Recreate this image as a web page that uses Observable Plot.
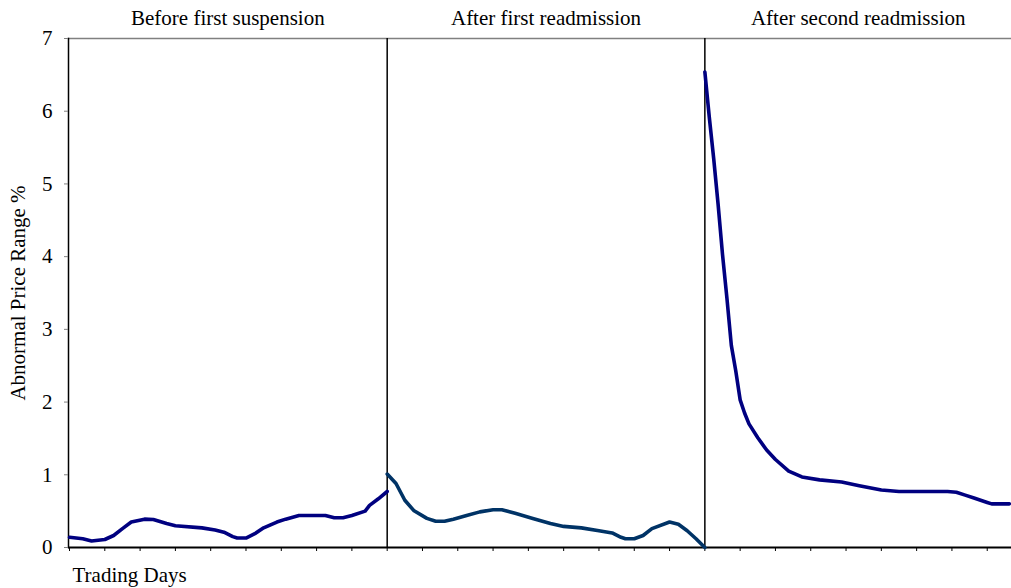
<!DOCTYPE html>
<html>
<head>
<meta charset="utf-8">
<script src="https://cdn.jsdelivr.net/npm/d3@7"></script>
<script src="https://cdn.jsdelivr.net/npm/@observablehq/plot@0.6"></script>
<style>
  html, body { margin: 0; padding: 0; background: #fff; }
</style>
</head>
<body>
<div id="chart"></div>
<script>
// Segment labels and boundaries (trading days)
const segmentNames = ["Before first suspension", "After first readmission", "After second readmission"];
const segmentStart = [-0.23, 72, 144];
const segmentEnd = [72, 144, 213.5];
const boundaries = [72, 144];

// Series: abnormal price range (%) by trading day
const seg1Days = [0, 3, 5, 8, 10, 12, 14, 17, 19, 22, 24, 30, 33, 35, 37, 38, 40, 42, 44, 47, 49, 52, 58, 60, 62, 64, 67, 68, 70, 72];
const seg1Vals = [0.14, 0.12, 0.09, 0.11, 0.165, 0.26, 0.35, 0.39, 0.385, 0.33, 0.30, 0.27, 0.24, 0.21, 0.15, 0.13, 0.13, 0.19, 0.27, 0.35, 0.39, 0.44, 0.44, 0.41, 0.41, 0.44, 0.50, 0.58, 0.67, 0.77];

const seg2Days = [72, 74, 76, 78, 81, 83, 85, 87, 90, 93, 96, 98, 101, 105, 109, 112, 116, 120, 123, 125, 126, 128, 130, 132, 136, 138, 140, 142, 144];
const seg2Vals = [1.01, 0.88, 0.65, 0.51, 0.40, 0.36, 0.36, 0.39, 0.44, 0.49, 0.52, 0.52, 0.47, 0.40, 0.33, 0.29, 0.27, 0.23, 0.20, 0.14, 0.12, 0.12, 0.165, 0.26, 0.35, 0.32, 0.23, 0.12, 0.00];

const seg3Days = [144, 145, 146, 147, 148, 149, 150, 151, 152, 153, 154, 156, 158, 160, 163, 166, 170, 175, 179, 184, 188, 199, 201, 203, 205, 207, 208, 209, 213];
const seg3Vals = [6.54, 5.92, 5.35, 4.72, 4.03, 3.43, 2.78, 2.43, 2.03, 1.85, 1.70, 1.51, 1.34, 1.21, 1.05, 0.97, 0.93, 0.90, 0.85, 0.79, 0.77, 0.77, 0.76, 0.72, 0.68, 0.64, 0.62, 0.60, 0.60];

const yTicks = [0, 1, 2, 3, 4, 5, 6, 7];
const xTicks = d3.range(0, 209, 8);
const xTitle = "Trading Days";
const yTitle = "Abnormal Price Range %";

const toRows = (days, vals) => days.map((d, i) => ({day: d, value: vals[i]}));
const seg1 = toRows(seg1Days, seg1Vals);
const seg2 = toRows(seg2Days, seg2Vals);
const seg3 = toRows(seg3Days, seg3Vals);
const titles = segmentNames.map((name, i) => ({name, mid: (segmentStart[i] + segmentEnd[i]) / 2}));

const chart = Plot.plot({
  width: 1011,
  height: 588,
  marginLeft: 68,
  marginRight: 0,
  marginTop: 38,
  marginBottom: 41,
  style: {fontFamily: "'Liberation Serif', 'Times New Roman', serif", fontSize: "21px", color: "#000", background: "#fff"},
  x: {domain: [segmentStart[0], segmentEnd[2]]},
  y: {domain: [0, 7]},
  marks: [
    Plot.frame({anchor: "top", stroke: "#808080", strokeWidth: 1.5}),
    Plot.frame({anchor: "left", stroke: "#000", strokeWidth: 1.5}),
    Plot.axisY({ticks: yTicks, tickSize: 4, tickPadding: 12, tickFormat: "d", stroke: "#808080", fill: "#000",
      label: null, fontSize: 21}),
    Plot.axisX({ticks: xTicks, tickSize: 4, tickFormat: () => "", stroke: "#000", label: null}),
    Plot.text([yTitle], {frameAnchor: "left", rotate: -90, dx: -50, lineAnchor: "middle", textAnchor: "middle", fontSize: 21, fill: "#000"}),
    Plot.text([xTitle], {frameAnchor: "bottom-left", dx: 4, dy: 28, textAnchor: "start", lineAnchor: "middle", fontSize: 21, fill: "#000"}),
    Plot.ruleY([0], {stroke: "#000", strokeWidth: 2}),
    Plot.ruleX(boundaries, {y1: 0, y2: 7, stroke: "#000", strokeWidth: 1.5}),
    Plot.line(seg1, {x: "day", y: "value", stroke: "#000080", strokeWidth: 3.6, strokeLinejoin: "round"}),
    Plot.line(seg2, {x: "day", y: "value", stroke: "#003366", strokeWidth: 3.6, strokeLinejoin: "round"}),
    Plot.line(seg3, {x: "day", y: "value", stroke: "#000080", strokeWidth: 3.6, strokeLinejoin: "round"}),
    Plot.text(titles, {x: "mid", text: "name", frameAnchor: "top", dy: -20, lineAnchor: "middle", fontSize: 21, fill: "#000"})
  ]
});
document.getElementById("chart").append(chart);
</script>
</body>
</html>
